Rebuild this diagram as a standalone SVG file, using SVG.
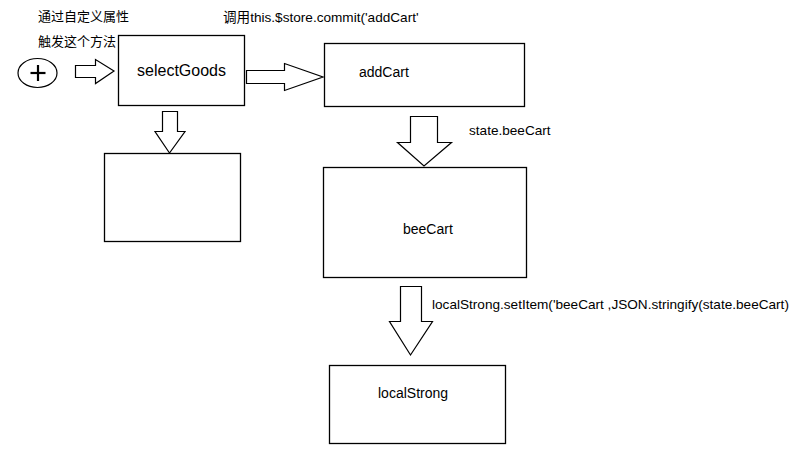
<svg xmlns="http://www.w3.org/2000/svg" width="798" height="450" viewBox="0 0 798 450">
<style>
.box{fill:#fff;stroke:#000;stroke-width:1.3}
.arr{fill:#fff;stroke:#000;stroke-width:1.2;stroke-linejoin:miter}
.t{font-family:"Liberation Sans","Noto Sans CJK SC",sans-serif;fill:#000}
.lbl{font-size:13.6px}
.cjk{font-size:13px}
.nm{font-size:14px}
</style>
<rect width="798" height="450" fill="#fff"/>
<g id="labels">
<text class="t cjk" x="38" y="21">通过自定义属性</text>
<text class="t cjk" x="38" y="46">触发这个方法</text>
<text class="t lbl" x="223" y="22">调用this.$store.commit('addCart'</text>
<text class="t lbl" x="469" y="135">state.beeCart</text>
<text class="t lbl" x="432" y="309">localStrong.setItem('beeCart ,JSON.stringify(state.beeCart)</text>
</g>
<g id="plus-icon">
<ellipse cx="37.5" cy="73" rx="19.5" ry="14.5" fill="#fff" stroke="#000" stroke-width="1.2"/>
<line x1="30.5" y1="73" x2="45.5" y2="73" stroke="#000" stroke-width="2.2"/>
<line x1="38" y1="65" x2="38" y2="81" stroke="#000" stroke-width="2.2"/>
</g>
<g id="selectGoods">
<rect class="box" x="118.5" y="35.5" width="126" height="70"/>
<text class="t" x="181.5" y="76" font-size="16" text-anchor="middle">selectGoods</text>
</g>
<g id="empty-box">
<rect class="box" x="104.5" y="153.5" width="136" height="88"/>
</g>
<g id="addCart">
<rect class="box" x="324.5" y="43.5" width="200" height="63"/>
<text class="t nm" x="359" y="77">addCart</text>
</g>
<g id="beeCart">
<rect class="box" x="323.5" y="167.5" width="203" height="110"/>
<text class="t nm" x="403" y="234">beeCart</text>
</g>
<g id="localStrong">
<rect class="box" x="329.5" y="365.5" width="176" height="78"/>
<text class="t nm" x="378" y="398">localStrong</text>
</g>
<g id="connectors">
<polygon class="arr" points="75.5,65.5 95.5,65.5 95.5,59.5 114,71 95.5,83.5 95.5,77.5 75.5,77.5"/>
<polygon class="arr" points="246.5,70.5 284.5,70.5 284.5,63.5 323,77 284.5,90.5 284.5,83.5 246.5,83.5"/>
<polygon class="arr" points="162.5,111.5 177.5,111.5 177.5,131.5 185,131.5 169.5,153 155,131.5 162.5,131.5"/>
<polygon class="arr" points="410.5,116.5 437.5,116.5 437.5,142.5 451.5,142.5 424,166 397.5,142.5 410.5,142.5"/>
<polygon class="arr" points="400.5,286.5 421.5,286.5 421.5,321.5 432.5,321.5 410.5,355 389.5,321.5 400.5,321.5"/>
</g>
</svg>
